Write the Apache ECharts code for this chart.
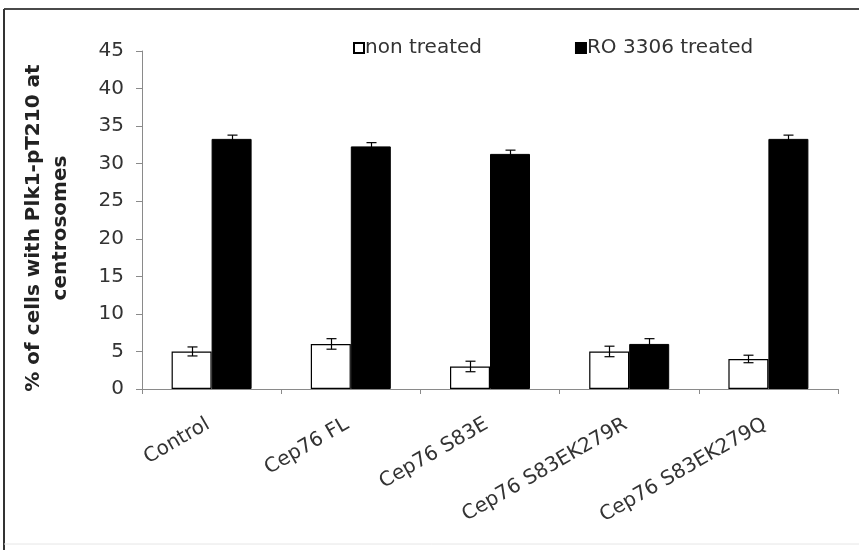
<!DOCTYPE html>
<html>
<head>
<meta charset="utf-8">
<script src="https://cdn.jsdelivr.net/npm/echarts@6/dist/echarts.min.js"></script>
<style>
  html, body { margin: 0; padding: 0; background: #fff; }
  #chart { width: 859px; height: 550px; }
</style>
</head>
<body>
<div id="chart"></div>
<script>
// Groups on the x axis
const categories = ['Control', 'Cep76 FL', 'Cep76 S83E', 'Cep76 S83EK279R', 'Cep76 S83EK279Q'];

// % of cells with Plk1-pT210 at centrosomes, mean and error
const nonTreated = [5.0, 6.0, 3.0, 5.0, 4.0];
const nonTreatedErr = [0.6, 0.7, 0.7, 0.7, 0.5];
const roTreated = [33.3, 32.3, 31.3, 6.0, 33.3];
const roTreatedErr = [0.5, 0.5, 0.5, 0.7, 0.5];

// Y axis ticks
const yTicks = { min: 0, max: 45, step: 5 };

const seriesNames = ['non treated', 'RO 3306 treated'];

const BAR_W = 40;
const FONT = '"DejaVu Sans", "Liberation Sans", Arial, sans-serif';

// Error bars with caps, centred on each bar of a series
function errorSeries(values, errs, offset) {
  return {
    type: 'custom',
    coordinateSystem: 'cartesian2d',
    z: 5,
    silent: true,
    encode: { x: 0, y: 1 },
    data: values.map((v, i) => [i, v, errs[i]]),
    renderItem: function (params, api) {
      const idx = api.value(0);
      const v = api.value(1);
      const e = api.value(2);
      const hi = api.coord([idx, v + e]);
      const lo = api.coord([idx, v - e]);
      const x = Math.round(hi[0] + offset) + 0.5;
      const cap = 5;
      const style = { stroke: '#000', lineWidth: 1.2, fill: null };
      return {
        type: 'group',
        children: [
          { type: 'line', shape: { x1: x, y1: hi[1], x2: x, y2: lo[1] }, style: style },
          { type: 'line', shape: { x1: x - cap, y1: hi[1], x2: x + cap, y2: hi[1] }, style: style },
          { type: 'line', shape: { x1: x - cap, y1: lo[1], x2: x + cap, y2: lo[1] }, style: style }
        ]
      };
    }
  };
}

const chart = echarts.init(document.getElementById('chart'), null, { renderer: 'canvas' });

chart.setOption({
  backgroundColor: '#fff',
  animation: false,
  textStyle: { fontFamily: FONT },
  graphic: [
    { type: 'line', shape: { x1: 4, y1: 9, x2: 859, y2: 9 }, style: { stroke: '#4a4a4a', lineWidth: 2 } },
    { type: 'line', shape: { x1: 4, y1: 9, x2: 4, y2: 550 }, style: { stroke: '#333', lineWidth: 2 } },
    { type: 'line', shape: { x1: 4, y1: 544, x2: 859, y2: 544 }, style: { stroke: '#e6e6e6', lineWidth: 1 } }
  ],
  legend: {
    data: seriesNames,
    left: 348,
    top: 33,
    itemWidth: 10,
    itemHeight: 10,
    itemGap: 93,
    icon: 'rect',
    textStyle: { fontSize: 20, color: '#333', fontFamily: FONT, padding: [0, 0, 0, -4] }
  },
  grid: { left: 142, right: 21, top: 51, bottom: 161 },
  xAxis: {
    type: 'category',
    data: categories,
    axisLine: { lineStyle: { color: '#8a8a8a', width: 1 } },
    axisTick: { show: true, length: 5, lineStyle: { color: '#8a8a8a' } },
    axisLabel: {
      rotate: 30, margin: 32, fontSize: 20, color: '#333', fontFamily: FONT,
      interval: 0, padding: [0, 4, 0, 0]
    }
  },
  yAxis: {
    type: 'value',
    min: yTicks.min,
    max: yTicks.max,
    interval: yTicks.step,
    name: '% of cells with Plk1-pT210 at\ncentrosomes',
    nameLocation: 'middle',
    nameRotate: 90,
    nameGap: 68,
    nameTextStyle: {
      fontSize: 20, fontWeight: 'bold', color: '#222', fontFamily: FONT,
      lineHeight: 27, padding: [0, 16, 0, 0]
    },
    splitLine: { show: false },
    axisLine: { show: true, lineStyle: { color: '#8a8a8a', width: 1 } },
    axisTick: { show: true, length: 6, lineStyle: { color: '#8a8a8a' } },
    axisLabel: { margin: 18, fontSize: 20, color: '#333', fontFamily: FONT }
  },
  series: [
    {
      name: seriesNames[0],
      type: 'bar',
      data: nonTreated,
      barWidth: BAR_W,
      barGap: '0%',
      itemStyle: { color: '#fff', borderColor: '#000', borderWidth: 1.2 }
    },
    {
      name: seriesNames[1],
      type: 'bar',
      data: roTreated,
      barWidth: BAR_W,
      barGap: '0%',
      itemStyle: { color: '#000', borderColor: '#000', borderWidth: 1 }
    },
    errorSeries(nonTreated, nonTreatedErr, -BAR_W / 2),
    errorSeries(roTreated, roTreatedErr, BAR_W / 2)
  ]
});
</script>
</body>
</html>
